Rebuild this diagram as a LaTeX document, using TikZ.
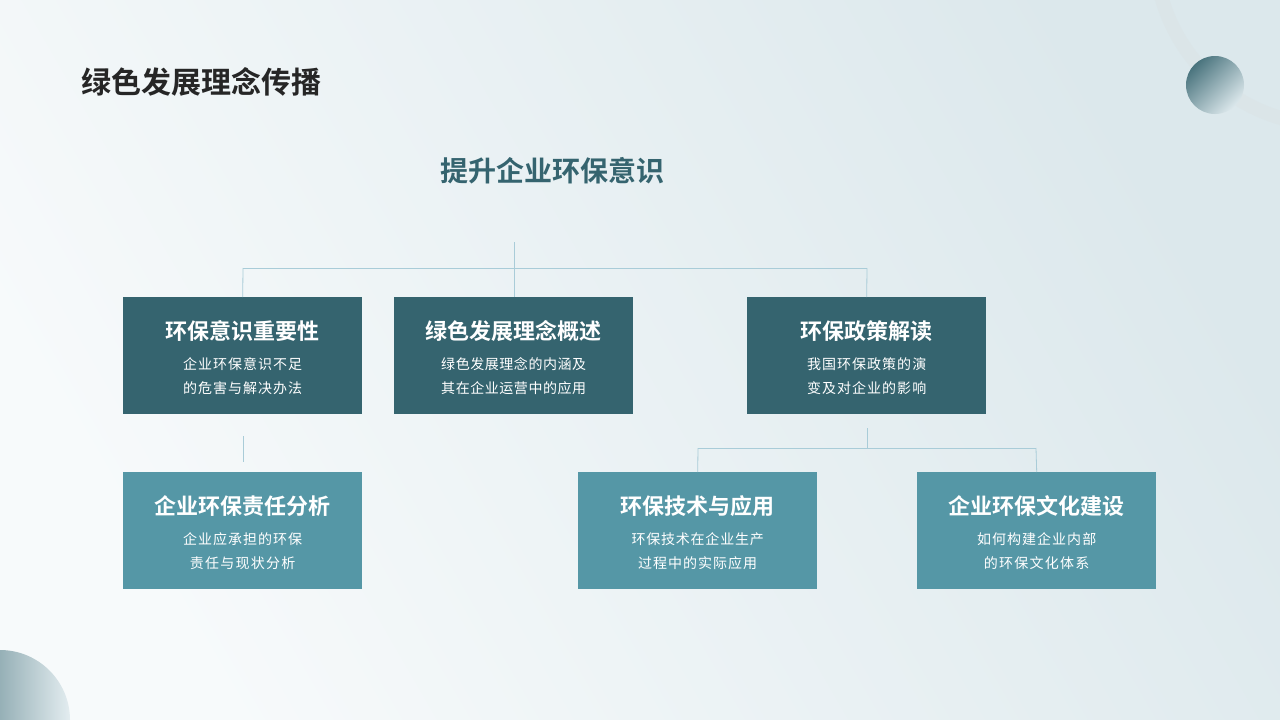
\documentclass[tikz,border=0pt]{standalone}
\usepackage{fontspec}
\setmainfont{Noto Sans CJK SC}
\newfontfamily\cjkb{Noto Sans CJK SC Bold}
\XeTeXlinebreaklocale "zh"
\XeTeXlinebreakskip=0pt plus 1pt
\begin{document}
\begin{tikzpicture}[x=1pt,y=-1pt,
  ln/.style={draw=lineblue,line width=0.8pt},
  dbox/.style={fill=darkteal,minimum width=239pt,minimum height=117pt,anchor=north west,inner sep=0pt},
  lbox/.style={fill=lightteal,minimum width=239pt,minimum height=117pt,anchor=north west,inner sep=0pt},
  btxt/.style={text=white,align=center,font=\fontsize{14}{24}\selectfont,text width=176pt,inner sep=0pt}]
\definecolor{darkteal}{HTML}{35646F}
\definecolor{lightteal}{HTML}{5597A6}
\definecolor{lineblue}{HTML}{A9CCD8}
\definecolor{bgl}{HTML}{F7FAFB}
\definecolor{bgr}{HTML}{DCE8EC}
\useasboundingbox (0,0) rectangle (1280,720);
\shade[left color=bgl,right color=bgr,shading angle=120] (0,0) rectangle (1280,720);
\begin{scope}
\clip (0,0) rectangle (1280,720);
\draw[line width=14pt,color=bgr!85!darkteal!60] (1330,-50) circle (175);
\shade[left color=darkteal!90,right color=bgr!80!white] (0,720) circle (70);
\end{scope}
\shade[top color=darkteal!90!white,bottom color=bgr,shading angle=45] (1215,85) circle (29);
\node[anchor=west,font=\cjkb\fontsize{30}{36}\selectfont,text=black!85] (h) at (78,82) {绿色发展理念传播};
\node[font=\cjkb\fontsize{28}{34}\selectfont,text=darkteal] (t) at (552,171) {提升企业环保意识};
\coordinate (t0) at (514,242);
\coordinate (t1) at (514,268);
\coordinate (tl) at (243,268);
\coordinate (tr) at (867,268);
\draw[ln] (t0) -- (t1);
\draw[ln] (tl) -- (tr);

\node[dbox] (a) at (123,297) {};
\node[dbox] (b) at (394,297) {};
\node[dbox] (c) at (747,297) {};
\node[lbox] (d) at (123,472) {};
\node[lbox] (e) at (578,472) {};
\node[lbox] (f) at (917,472) {};
\draw[ln] (tl) -- (a.north);
\draw[ln] (t1) -- (b.north -| t1);
\draw[ln] (tr) -- (c.north);
\coordinate (a1) at (243,436);
\coordinate (a2) at (243,462);
\draw[ln] (a1) -- (a2);
\coordinate (c1) at (867,428);
\coordinate (c2) at (867,448);
\coordinate (el) at (698,448);
\coordinate (fr) at (1036,448);
\draw[ln] (c1) -- (c2);
\draw[ln] (el) -- (fr);
\draw[ln] (el) -- (e.north);
\draw[ln] (fr) -- (f.north);

\foreach \n/\ti/\s in {a/环保意识重要性/企业环保意识不足的危害与解决办法,
  b/绿色发展理念概述/绿色发展理念的内涵及其在企业运营中的应用,
  c/环保政策解读/我国环保政策的演变及对企业的影响,
  d/企业环保责任分析/企业应承担的环保责任与现状分析,
  e/环保技术与应用/环保技术在企业生产过程中的实际应用,
  f/企业环保文化建设/如何构建企业内部的环保文化体系}{
  \node[text=white,font=\cjkb\fontsize{22}{26}\selectfont] (\n t) at ([yshift=-34]\n.north) {\ti};
  \node[btxt,anchor=north] (\n s) at ([yshift=-60]\n.north) {\s};
}
\end{tikzpicture}
\end{document}
